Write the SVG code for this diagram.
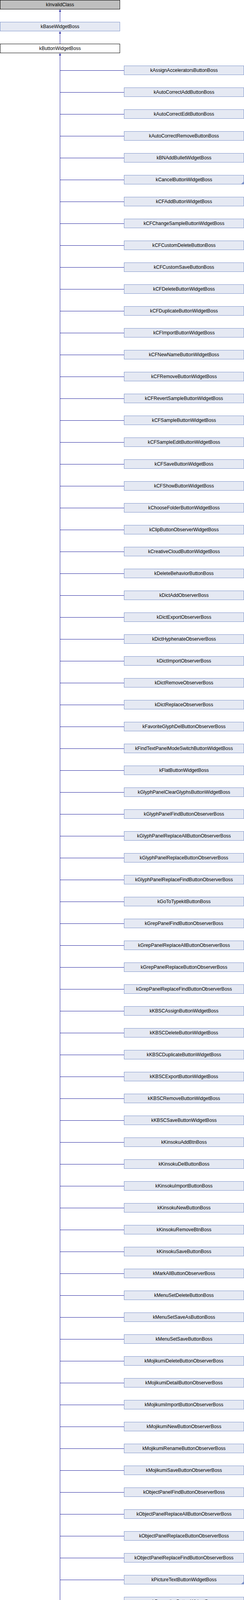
<svg xmlns="http://www.w3.org/2000/svg" width="624" height="6576" viewBox="0 0 624 6576">
<style>
.n rect{fill:#e5e9f3;stroke:#7c92c9;stroke-width:1}
.n text,.t text{font-family:"Liberation Sans",Arial,sans-serif;font-size:12.2px;fill:#000;text-anchor:middle}
.t rect{stroke:#000;stroke-width:1}
.more{fill:#7c92c9}
.c{fill:none;stroke:#1e1e9c;stroke-width:1}
</style>
<defs>
<marker id="ah" markerUnits="userSpaceOnUse" markerWidth="7" markerHeight="6" refX="6" refY="3" orient="auto-start-reverse"><path d="M0,0.5L6,3L0,5.5z" fill="#1e1e9c"/></marker>
</defs>
<rect width="624" height="6576" fill="#fff"/>
<g id="connectors">
<path class="c" d="M153.5,24V56" marker-start="url(#ah)"/>
<path class="c" d="M153.5,80V112" marker-start="url(#ah)"/>
<path class="c" d="M153.5,136V6564.5" marker-start="url(#ah)"/>
<path class="c" d="M153.5,180.5H317M153.5,236.5H317M153.5,292.5H317M153.5,348.5H317M153.5,404.5H317M153.5,460.5H317M153.5,516.5H317M153.5,572.5H317M153.5,628.5H317M153.5,684.5H317M153.5,740.5H317M153.5,796.5H317M153.5,852.5H317M153.5,908.5H317M153.5,964.5H317M153.5,1020.5H317M153.5,1076.5H317M153.5,1132.5H317M153.5,1188.5H317M153.5,1244.5H317M153.5,1300.5H317M153.5,1356.5H317M153.5,1412.5H317M153.5,1468.5H317M153.5,1524.5H317M153.5,1580.5H317M153.5,1636.5H317M153.5,1692.5H317M153.5,1748.5H317M153.5,1804.5H317M153.5,1860.5H317M153.5,1916.5H317M153.5,1972.5H317M153.5,2028.5H317M153.5,2084.5H317M153.5,2140.5H317M153.5,2196.5H317M153.5,2252.5H317M153.5,2308.5H317M153.5,2364.5H317M153.5,2420.5H317M153.5,2476.5H317M153.5,2532.5H317M153.5,2588.5H317M153.5,2644.5H317M153.5,2700.5H317M153.5,2756.5H317M153.5,2812.5H317M153.5,2868.5H317M153.5,2924.5H317M153.5,2980.5H317M153.5,3036.5H317M153.5,3092.5H317M153.5,3148.5H317M153.5,3204.5H317M153.5,3260.5H317M153.5,3316.5H317M153.5,3372.5H317M153.5,3428.5H317M153.5,3484.5H317M153.5,3540.5H317M153.5,3596.5H317M153.5,3652.5H317M153.5,3708.5H317M153.5,3764.5H317M153.5,3820.5H317M153.5,3876.5H317M153.5,3932.5H317M153.5,3988.5H317M153.5,4044.5H317M153.5,4100.5H317M153.5,4156.5H317M153.5,4212.5H317M153.5,4268.5H317M153.5,4324.5H317M153.5,4380.5H317M153.5,4436.5H317M153.5,4492.5H317M153.5,4548.5H317M153.5,4604.5H317M153.5,4660.5H317M153.5,4716.5H317M153.5,4772.5H317M153.5,4828.5H317M153.5,4884.5H317M153.5,4940.5H317M153.5,4996.5H317M153.5,5052.5H317M153.5,5108.5H317M153.5,5164.5H317M153.5,5220.5H317M153.5,5276.5H317M153.5,5332.5H317M153.5,5388.5H317M153.5,5444.5H317M153.5,5500.5H317M153.5,5556.5H317M153.5,5612.5H317M153.5,5668.5H317M153.5,5724.5H317M153.5,5780.5H317M153.5,5836.5H317M153.5,5892.5H317M153.5,5948.5H317M153.5,6004.5H317M153.5,6060.5H317M153.5,6116.5H317M153.5,6172.5H317M153.5,6228.5H317M153.5,6284.5H317M153.5,6340.5H317M153.5,6396.5H317M153.5,6452.5H317M153.5,6508.5H317M153.5,6564.5H317"/>
</g>
<g id="kInvalidClass" class="t" transform="translate(0.5,0.5)"><rect width="306" height="23" fill="#bfbfbf"/><text x="153" y="15.5">kInvalidClass</text></g>
<g id="kBaseWidgetBoss" class="n" transform="translate(0.5,56.5)"><rect width="306" height="23"/><text x="153" y="15.5">kBaseWidgetBoss</text></g>
<g id="kButtonWidgetBoss" class="t" transform="translate(0.5,112.5)"><rect width="306" height="23" fill="#fff"/><text x="153" y="15.5">kButtonWidgetBoss</text></g>
<g id="kAssignAcceleratorsButtonBoss" class="n" transform="translate(317.5,168.5)"><rect width="306" height="23"/><text x="153" y="15.5">kAssignAcceleratorsButtonBoss</text></g>
<g id="kAutoCorrectAddButtonBoss" class="n" transform="translate(317.5,224.5)"><rect width="306" height="23"/><text x="153" y="15.5">kAutoCorrectAddButtonBoss</text></g>
<g id="kAutoCorrectEditButtonBoss" class="n" transform="translate(317.5,280.5)"><rect width="306" height="23"/><text x="153" y="15.5">kAutoCorrectEditButtonBoss</text></g>
<g id="kAutoCorrectRemoveButtonBoss" class="n" transform="translate(317.5,336.5)"><rect width="306" height="23"/><text x="153" y="15.5">kAutoCorrectRemoveButtonBoss</text></g>
<g id="kBNAddBulletWidgetBoss" class="n" transform="translate(317.5,392.5)"><rect width="306" height="23"/><text x="153" y="15.5">kBNAddBulletWidgetBoss</text></g>
<g id="kCancelButtonWidgetBoss" class="n" transform="translate(317.5,448.5)"><rect width="306" height="23"/><text x="153" y="15.5">kCancelButtonWidgetBoss</text><path class="more" d="M299,23L306,23L306,16z"/></g>
<g id="kCFAddButtonWidgetBoss" class="n" transform="translate(317.5,504.5)"><rect width="306" height="23"/><text x="153" y="15.5">kCFAddButtonWidgetBoss</text></g>
<g id="kCFChangeSampleButtonWidgetBoss" class="n" transform="translate(317.5,560.5)"><rect width="306" height="23"/><text x="153" y="15.5">kCFChangeSampleButtonWidgetBoss</text></g>
<g id="kCFCustomDeleteButtonBoss" class="n" transform="translate(317.5,616.5)"><rect width="306" height="23"/><text x="153" y="15.5">kCFCustomDeleteButtonBoss</text></g>
<g id="kCFCustomSaveButtonBoss" class="n" transform="translate(317.5,672.5)"><rect width="306" height="23"/><text x="153" y="15.5">kCFCustomSaveButtonBoss</text></g>
<g id="kCFDeleteButtonWidgetBoss" class="n" transform="translate(317.5,728.5)"><rect width="306" height="23"/><text x="153" y="15.5">kCFDeleteButtonWidgetBoss</text></g>
<g id="kCFDuplicateButtonWidgetBoss" class="n" transform="translate(317.5,784.5)"><rect width="306" height="23"/><text x="153" y="15.5">kCFDuplicateButtonWidgetBoss</text></g>
<g id="kCFImportButtonWidgetBoss" class="n" transform="translate(317.5,840.5)"><rect width="306" height="23"/><text x="153" y="15.5">kCFImportButtonWidgetBoss</text></g>
<g id="kCFNewNameButtonWidgetBoss" class="n" transform="translate(317.5,896.5)"><rect width="306" height="23"/><text x="153" y="15.5">kCFNewNameButtonWidgetBoss</text></g>
<g id="kCFRemoveButtonWidgetBoss" class="n" transform="translate(317.5,952.5)"><rect width="306" height="23"/><text x="153" y="15.5">kCFRemoveButtonWidgetBoss</text></g>
<g id="kCFRevertSampleButtonWidgetBoss" class="n" transform="translate(317.5,1008.5)"><rect width="306" height="23"/><text x="153" y="15.5">kCFRevertSampleButtonWidgetBoss</text></g>
<g id="kCFSampleButtonWidgetBoss" class="n" transform="translate(317.5,1064.5)"><rect width="306" height="23"/><text x="153" y="15.5">kCFSampleButtonWidgetBoss</text></g>
<g id="kCFSampleEditButtonWidgetBoss" class="n" transform="translate(317.5,1120.5)"><rect width="306" height="23"/><text x="153" y="15.5">kCFSampleEditButtonWidgetBoss</text></g>
<g id="kCFSaveButtonWidgetBoss" class="n" transform="translate(317.5,1176.5)"><rect width="306" height="23"/><text x="153" y="15.5">kCFSaveButtonWidgetBoss</text></g>
<g id="kCFShowButtonWidgetBoss" class="n" transform="translate(317.5,1232.5)"><rect width="306" height="23"/><text x="153" y="15.5">kCFShowButtonWidgetBoss</text></g>
<g id="kChooseFolderButtonWidgetBoss" class="n" transform="translate(317.5,1288.5)"><rect width="306" height="23"/><text x="153" y="15.5">kChooseFolderButtonWidgetBoss</text></g>
<g id="kClipButtonObserverWidgetBoss" class="n" transform="translate(317.5,1344.5)"><rect width="306" height="23"/><text x="153" y="15.5">kClipButtonObserverWidgetBoss</text></g>
<g id="kCreativeCloudButtonWidgetBoss" class="n" transform="translate(317.5,1400.5)"><rect width="306" height="23"/><text x="153" y="15.5">kCreativeCloudButtonWidgetBoss</text></g>
<g id="kDeleteBehaviorButtonBoss" class="n" transform="translate(317.5,1456.5)"><rect width="306" height="23"/><text x="153" y="15.5">kDeleteBehaviorButtonBoss</text></g>
<g id="kDictAddObserverBoss" class="n" transform="translate(317.5,1512.5)"><rect width="306" height="23"/><text x="153" y="15.5">kDictAddObserverBoss</text></g>
<g id="kDictExportObserverBoss" class="n" transform="translate(317.5,1568.5)"><rect width="306" height="23"/><text x="153" y="15.5">kDictExportObserverBoss</text></g>
<g id="kDictHyphenateObserverBoss" class="n" transform="translate(317.5,1624.5)"><rect width="306" height="23"/><text x="153" y="15.5">kDictHyphenateObserverBoss</text></g>
<g id="kDictImportObserverBoss" class="n" transform="translate(317.5,1680.5)"><rect width="306" height="23"/><text x="153" y="15.5">kDictImportObserverBoss</text></g>
<g id="kDictRemoveObserverBoss" class="n" transform="translate(317.5,1736.5)"><rect width="306" height="23"/><text x="153" y="15.5">kDictRemoveObserverBoss</text></g>
<g id="kDictReplaceObserverBoss" class="n" transform="translate(317.5,1792.5)"><rect width="306" height="23"/><text x="153" y="15.5">kDictReplaceObserverBoss</text></g>
<g id="kFavoriteGlyphDelButtonObserverBoss" class="n" transform="translate(317.5,1848.5)"><rect width="306" height="23"/><text x="153" y="15.5">kFavoriteGlyphDelButtonObserverBoss</text></g>
<g id="kFindTextPanelModeSwitchButtonWidgetBoss" class="n" transform="translate(317.5,1904.5)"><rect width="306" height="23"/><text x="153" y="15.5">kFindTextPanelModeSwitchButtonWidgetBoss</text></g>
<g id="kFlatButtonWidgetBoss" class="n" transform="translate(317.5,1960.5)"><rect width="306" height="23"/><text x="153" y="15.5">kFlatButtonWidgetBoss</text></g>
<g id="kGlyphPanelClearGlyphsButtonWidgetBoss" class="n" transform="translate(317.5,2016.5)"><rect width="306" height="23"/><text x="153" y="15.5">kGlyphPanelClearGlyphsButtonWidgetBoss</text></g>
<g id="kGlyphPanelFindButtonObserverBoss" class="n" transform="translate(317.5,2072.5)"><rect width="306" height="23"/><text x="153" y="15.5">kGlyphPanelFindButtonObserverBoss</text></g>
<g id="kGlyphPanelReplaceAllButtonObserverBoss" class="n" transform="translate(317.5,2128.5)"><rect width="306" height="23"/><text x="153" y="15.5">kGlyphPanelReplaceAllButtonObserverBoss</text></g>
<g id="kGlyphPanelReplaceButtonObserverBoss" class="n" transform="translate(317.5,2184.5)"><rect width="306" height="23"/><text x="153" y="15.5">kGlyphPanelReplaceButtonObserverBoss</text></g>
<g id="kGlyphPanelReplaceFindButtonObserverBoss" class="n" transform="translate(317.5,2240.5)"><rect width="306" height="23"/><text x="153" y="15.5">kGlyphPanelReplaceFindButtonObserverBoss</text></g>
<g id="kGoToTypekitButtonBoss" class="n" transform="translate(317.5,2296.5)"><rect width="306" height="23"/><text x="153" y="15.5">kGoToTypekitButtonBoss</text></g>
<g id="kGrepPanelFindButtonObserverBoss" class="n" transform="translate(317.5,2352.5)"><rect width="306" height="23"/><text x="153" y="15.5">kGrepPanelFindButtonObserverBoss</text></g>
<g id="kGrepPanelReplaceAllButtonObserverBoss" class="n" transform="translate(317.5,2408.5)"><rect width="306" height="23"/><text x="153" y="15.5">kGrepPanelReplaceAllButtonObserverBoss</text></g>
<g id="kGrepPanelReplaceButtonObserverBoss" class="n" transform="translate(317.5,2464.5)"><rect width="306" height="23"/><text x="153" y="15.5">kGrepPanelReplaceButtonObserverBoss</text></g>
<g id="kGrepPanelReplaceFindButtonObserverBoss" class="n" transform="translate(317.5,2520.5)"><rect width="306" height="23"/><text x="153" y="15.5">kGrepPanelReplaceFindButtonObserverBoss</text></g>
<g id="kKBSCAssignButtonWidgetBoss" class="n" transform="translate(317.5,2576.5)"><rect width="306" height="23"/><text x="153" y="15.5">kKBSCAssignButtonWidgetBoss</text></g>
<g id="kKBSCDeleteButtonWidgetBoss" class="n" transform="translate(317.5,2632.5)"><rect width="306" height="23"/><text x="153" y="15.5">kKBSCDeleteButtonWidgetBoss</text></g>
<g id="kKBSCDuplicateButtonWidgetBoss" class="n" transform="translate(317.5,2688.5)"><rect width="306" height="23"/><text x="153" y="15.5">kKBSCDuplicateButtonWidgetBoss</text></g>
<g id="kKBSCExportButtonWidgetBoss" class="n" transform="translate(317.5,2744.5)"><rect width="306" height="23"/><text x="153" y="15.5">kKBSCExportButtonWidgetBoss</text></g>
<g id="kKBSCRemoveButtonWidgetBoss" class="n" transform="translate(317.5,2800.5)"><rect width="306" height="23"/><text x="153" y="15.5">kKBSCRemoveButtonWidgetBoss</text></g>
<g id="kKBSCSaveButtonWidgetBoss" class="n" transform="translate(317.5,2856.5)"><rect width="306" height="23"/><text x="153" y="15.5">kKBSCSaveButtonWidgetBoss</text></g>
<g id="kKinsokuAddBtnBoss" class="n" transform="translate(317.5,2912.5)"><rect width="306" height="23"/><text x="153" y="15.5">kKinsokuAddBtnBoss</text></g>
<g id="kKinsokuDelButtonBoss" class="n" transform="translate(317.5,2968.5)"><rect width="306" height="23"/><text x="153" y="15.5">kKinsokuDelButtonBoss</text></g>
<g id="kKinsokuImportButtonBoss" class="n" transform="translate(317.5,3024.5)"><rect width="306" height="23"/><text x="153" y="15.5">kKinsokuImportButtonBoss</text></g>
<g id="kKinsokuNewButtonBoss" class="n" transform="translate(317.5,3080.5)"><rect width="306" height="23"/><text x="153" y="15.5">kKinsokuNewButtonBoss</text></g>
<g id="kKinsokuRemoveBtnBoss" class="n" transform="translate(317.5,3136.5)"><rect width="306" height="23"/><text x="153" y="15.5">kKinsokuRemoveBtnBoss</text></g>
<g id="kKinsokuSaveButtonBoss" class="n" transform="translate(317.5,3192.5)"><rect width="306" height="23"/><text x="153" y="15.5">kKinsokuSaveButtonBoss</text></g>
<g id="kMarkAllButtonObserverBoss" class="n" transform="translate(317.5,3248.5)"><rect width="306" height="23"/><text x="153" y="15.5">kMarkAllButtonObserverBoss</text></g>
<g id="kMenuSetDeleteButtonBoss" class="n" transform="translate(317.5,3304.5)"><rect width="306" height="23"/><text x="153" y="15.5">kMenuSetDeleteButtonBoss</text></g>
<g id="kMenuSetSaveAsButtonBoss" class="n" transform="translate(317.5,3360.5)"><rect width="306" height="23"/><text x="153" y="15.5">kMenuSetSaveAsButtonBoss</text></g>
<g id="kMenuSetSaveButtonBoss" class="n" transform="translate(317.5,3416.5)"><rect width="306" height="23"/><text x="153" y="15.5">kMenuSetSaveButtonBoss</text></g>
<g id="kMojikumiDeleteButtonObserverBoss" class="n" transform="translate(317.5,3472.5)"><rect width="306" height="23"/><text x="153" y="15.5">kMojikumiDeleteButtonObserverBoss</text></g>
<g id="kMojikumiDetailButtonObserverBoss" class="n" transform="translate(317.5,3528.5)"><rect width="306" height="23"/><text x="153" y="15.5">kMojikumiDetailButtonObserverBoss</text></g>
<g id="kMojikumiImportButtonObserverBoss" class="n" transform="translate(317.5,3584.5)"><rect width="306" height="23"/><text x="153" y="15.5">kMojikumiImportButtonObserverBoss</text></g>
<g id="kMojikumiNewButtonObserverBoss" class="n" transform="translate(317.5,3640.5)"><rect width="306" height="23"/><text x="153" y="15.5">kMojikumiNewButtonObserverBoss</text></g>
<g id="kMojikumiRenameButtonObserverBoss" class="n" transform="translate(317.5,3696.5)"><rect width="306" height="23"/><text x="153" y="15.5">kMojikumiRenameButtonObserverBoss</text></g>
<g id="kMojikumiSaveButtonObserverBoss" class="n" transform="translate(317.5,3752.5)"><rect width="306" height="23"/><text x="153" y="15.5">kMojikumiSaveButtonObserverBoss</text></g>
<g id="kObjectPanelFindButtonObserverBoss" class="n" transform="translate(317.5,3808.5)"><rect width="306" height="23"/><text x="153" y="15.5">kObjectPanelFindButtonObserverBoss</text></g>
<g id="kObjectPanelReplaceAllButtonObserverBoss" class="n" transform="translate(317.5,3864.5)"><rect width="306" height="23"/><text x="153" y="15.5">kObjectPanelReplaceAllButtonObserverBoss</text></g>
<g id="kObjectPanelReplaceButtonObserverBoss" class="n" transform="translate(317.5,3920.5)"><rect width="306" height="23"/><text x="153" y="15.5">kObjectPanelReplaceButtonObserverBoss</text></g>
<g id="kObjectPanelReplaceFindButtonObserverBoss" class="n" transform="translate(317.5,3976.5)"><rect width="306" height="23"/><text x="153" y="15.5">kObjectPanelReplaceFindButtonObserverBoss</text></g>
<g id="kPictureTextButtonWidgetBoss" class="n" transform="translate(317.5,4032.5)"><rect width="306" height="23"/><text x="153" y="15.5">kPictureTextButtonWidgetBoss</text><path class="more" d="M299,23L306,23L306,16z"/></g>
<g id="kPropertiesButtonWidgetBoss" class="n" transform="translate(317.5,4088.5)"><rect width="306" height="23"/><text x="153" y="15.5">kPropertiesButtonWidgetBoss</text></g>
<g id="kPrtErrorsFindFontButtonBoss" class="n" transform="translate(317.5,4144.5)"><rect width="306" height="23"/><text x="153" y="15.5">kPrtErrorsFindFontButtonBoss</text></g>
<g id="kPublishHTMLToastButtonWidgetBoss" class="n" transform="translate(317.5,4200.5)"><rect width="306" height="23"/><text x="153" y="15.5">kPublishHTMLToastButtonWidgetBoss</text></g>
<g id="kResetToBaseStyleObserverBoss" class="n" transform="translate(317.5,4256.5)"><rect width="306" height="23"/><text x="153" y="15.5">kResetToBaseStyleObserverBoss</text></g>
<g id="kResetWarningDialogButtonWidgetBoss" class="n" transform="translate(317.5,4312.5)"><rect width="306" height="23"/><text x="153" y="15.5">kResetWarningDialogButtonWidgetBoss</text></g>
<g id="kRIAddLineRuleButtonBoss" class="n" transform="translate(317.5,4368.5)"><rect width="306" height="23"/><text x="153" y="15.5">kRIAddLineRuleButtonBoss</text></g>
<g id="kRIAddRuleButtonBoss" class="n" transform="translate(317.5,4424.5)"><rect width="306" height="23"/><text x="153" y="15.5">kRIAddRuleButtonBoss</text></g>
<g id="kRibbonThumbnailExpanderWidgetBoss" class="n" transform="translate(317.5,4480.5)"><rect width="306" height="23"/><text x="153" y="15.5">kRibbonThumbnailExpanderWidgetBoss</text></g>
<g id="kRIDelLineRuleButtonBoss" class="n" transform="translate(317.5,4536.5)"><rect width="306" height="23"/><text x="153" y="15.5">kRIDelLineRuleButtonBoss</text></g>
<g id="kRIDelRuleButtonBoss" class="n" transform="translate(317.5,4592.5)"><rect width="306" height="23"/><text x="153" y="15.5">kRIDelRuleButtonBoss</text></g>
<g id="kRIGAddRuleButtonBoss" class="n" transform="translate(317.5,4648.5)"><rect width="306" height="23"/><text x="153" y="15.5">kRIGAddRuleButtonBoss</text></g>
<g id="kRIGDelRuleButtonBoss" class="n" transform="translate(317.5,4704.5)"><rect width="306" height="23"/><text x="153" y="15.5">kRIGDelRuleButtonBoss</text></g>
<g id="kS4SPFindFontButtonBoss" class="n" transform="translate(317.5,4760.5)"><rect width="306" height="23"/><text x="153" y="15.5">kS4SPFindFontButtonBoss</text></g>
<g id="kS4SPLinkRepairAllBoss" class="n" transform="translate(317.5,4816.5)"><rect width="306" height="23"/><text x="153" y="15.5">kS4SPLinkRepairAllBoss</text></g>
<g id="kS4SPLinkUpdateBoss" class="n" transform="translate(317.5,4872.5)"><rect width="306" height="23"/><text x="153" y="15.5">kS4SPLinkUpdateBoss</text></g>
<g id="kS4SPPackageButtonBoss" class="n" transform="translate(317.5,4928.5)"><rect width="306" height="23"/><text x="153" y="15.5">kS4SPPackageButtonBoss</text></g>
<g id="kS4SPReportButtonBoss" class="n" transform="translate(317.5,4984.5)"><rect width="306" height="23"/><text x="153" y="15.5">kS4SPReportButtonBoss</text></g>
<g id="kSelectFileButtonBoss" class="n" transform="translate(317.5,5040.5)"><rect width="306" height="23"/><text x="153" y="15.5">kSelectFileButtonBoss</text></g>
<g id="kSpellAddAndContinueButtonBoss" class="n" transform="translate(317.5,5096.5)"><rect width="306" height="23"/><text x="153" y="15.5">kSpellAddAndContinueButtonBoss</text></g>
<g id="kSpellAddToListButtonBoss" class="n" transform="translate(317.5,5152.5)"><rect width="306" height="23"/><text x="153" y="15.5">kSpellAddToListButtonBoss</text></g>
<g id="kSpellChangeAllButtonBoss" class="n" transform="translate(317.5,5208.5)"><rect width="306" height="23"/><text x="153" y="15.5">kSpellChangeAllButtonBoss</text></g>
<g id="kSpellChangeButtonBoss" class="n" transform="translate(317.5,5264.5)"><rect width="306" height="23"/><text x="153" y="15.5">kSpellChangeButtonBoss</text></g>
<g id="kSpellIgnoreButtonBoss" class="n" transform="translate(317.5,5320.5)"><rect width="306" height="23"/><text x="153" y="15.5">kSpellIgnoreButtonBoss</text></g>
<g id="kSpellSkipButtonBoss" class="n" transform="translate(317.5,5376.5)"><rect width="306" height="23"/><text x="153" y="15.5">kSpellSkipButtonBoss</text></g>
<g id="kStyleAddObserverBoss" class="n" transform="translate(317.5,5432.5)"><rect width="306" height="23"/><text x="153" y="15.5">kStyleAddObserverBoss</text></g>
<g id="kStyleRemoveObserverBoss" class="n" transform="translate(317.5,5488.5)"><rect width="306" height="23"/><text x="153" y="15.5">kStyleRemoveObserverBoss</text></g>
<g id="kSyncFontsButtonBoss" class="n" transform="translate(317.5,5544.5)"><rect width="306" height="23"/><text x="153" y="15.5">kSyncFontsButtonBoss</text></g>
<g id="kTabClearBoss" class="n" transform="translate(317.5,5600.5)"><rect width="306" height="23"/><text x="153" y="15.5">kTabClearBoss</text></g>
<g id="kTabRepeatBoss" class="n" transform="translate(317.5,5656.5)"><rect width="306" height="23"/><text x="153" y="15.5">kTabRepeatBoss</text></g>
<g id="kTextPanelFindButtonObserverBoss" class="n" transform="translate(317.5,5712.5)"><rect width="306" height="23"/><text x="153" y="15.5">kTextPanelFindButtonObserverBoss</text></g>
<g id="kTextPanelReplaceAllButtonObserverBoss" class="n" transform="translate(317.5,5768.5)"><rect width="306" height="23"/><text x="153" y="15.5">kTextPanelReplaceAllButtonObserverBoss</text></g>
<g id="kTextPanelReplaceButtonObserverBoss" class="n" transform="translate(317.5,5824.5)"><rect width="306" height="23"/><text x="153" y="15.5">kTextPanelReplaceButtonObserverBoss</text></g>
<g id="kTextPanelReplaceFindButtonObserverBoss" class="n" transform="translate(317.5,5880.5)"><rect width="306" height="23"/><text x="153" y="15.5">kTextPanelReplaceFindButtonObserverBoss</text></g>
<g id="kTouchGroupButtonObserverBoss" class="n" transform="translate(317.5,5936.5)"><rect width="306" height="23"/><text x="153" y="15.5">kTouchGroupButtonObserverBoss</text></g>
<g id="kTouchLockButtonObserverBoss" class="n" transform="translate(317.5,5992.5)"><rect width="306" height="23"/><text x="153" y="15.5">kTouchLockButtonObserverBoss</text></g>
<g id="kTouchUngroupButtonObserverBoss" class="n" transform="translate(317.5,6048.5)"><rect width="306" height="23"/><text x="153" y="15.5">kTouchUngroupButtonObserverBoss</text></g>
<g id="kTouchUnlockAllButtonObserverBoss" class="n" transform="translate(317.5,6104.5)"><rect width="306" height="23"/><text x="153" y="15.5">kTouchUnlockAllButtonObserverBoss</text></g>
<g id="kTransliteratePanelFindButtonObserverBoss" class="n" transform="translate(317.5,6160.5)"><rect width="306" height="23"/><text x="153" y="15.5">kTransliteratePanelFindButtonObserverBoss</text></g>
<g id="kTransliteratePanelReplaceAllButtonObserverBoss" class="n" transform="translate(317.5,6216.5)"><rect width="306" height="23"/><text x="153" y="15.5">kTransliteratePanelReplaceAllButtonObserverBoss</text></g>
<g id="kTransliteratePanelReplaceButtonObserverBoss" class="n" transform="translate(317.5,6272.5)"><rect width="306" height="23"/><text x="153" y="15.5">kTransliteratePanelReplaceButtonObserverBoss</text></g>
<g id="kTransliteratePanelReplaceFindButtonObserverBoss" class="n" transform="translate(317.5,6328.5)"><rect width="306" height="23"/><text x="153" y="15.5">kTransliteratePanelReplaceFindButtonObserverBoss</text></g>
<g id="kTurnTypekitONButtonBoss" class="n" transform="translate(317.5,6384.5)"><rect width="306" height="23"/><text x="153" y="15.5">kTurnTypekitONButtonBoss</text></g>
<g id="kUnassignSCButtonBoss" class="n" transform="translate(317.5,6440.5)"><rect width="306" height="23"/><text x="153" y="15.5">kUnassignSCButtonBoss</text></g>
<g id="kUntagButtonBoss" class="n" transform="translate(317.5,6496.5)"><rect width="306" height="23"/><text x="153" y="15.5">kUntagButtonBoss</text></g>
<g id="kWarningSaveButtonBoss" class="n" transform="translate(317.5,6552.5)"><rect width="306" height="23"/><text x="153" y="15.5">kWarningSaveButtonBoss</text></g>
</svg>
